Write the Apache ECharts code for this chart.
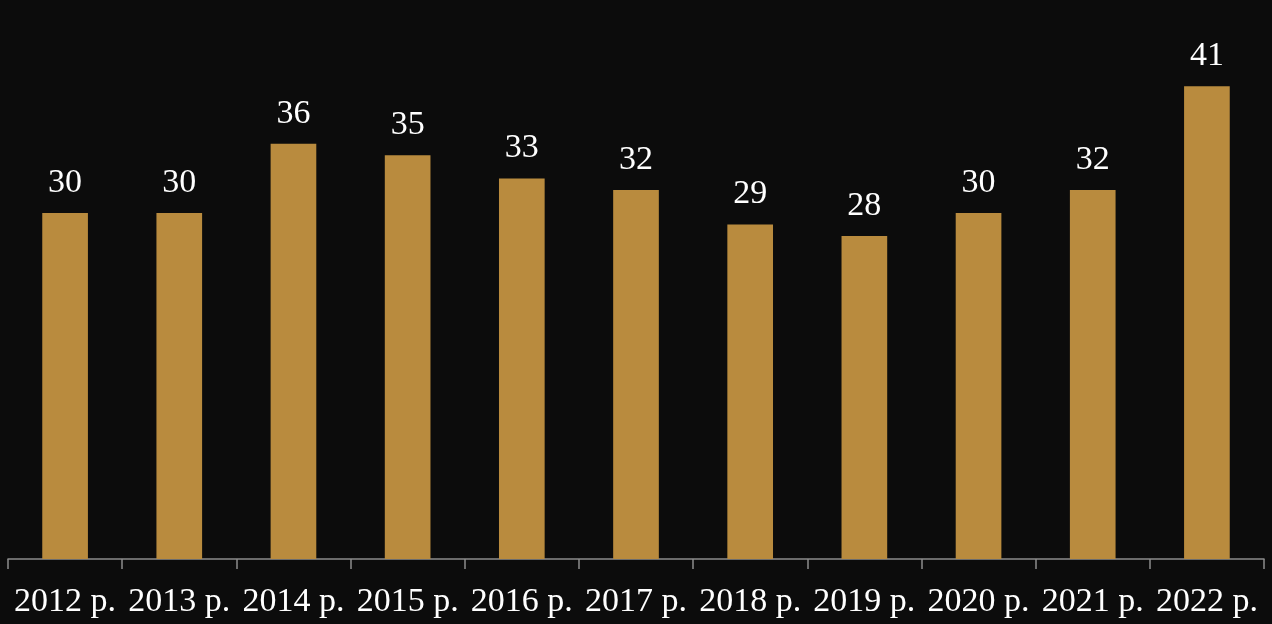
<!DOCTYPE html>
<html><head><meta charset="utf-8">
<script src="https://cdn.jsdelivr.net/npm/echarts@6/dist/echarts.min.js"></script>
<style>html,body{margin:0;padding:0;background:#0c0c0c}#c{width:1272px;height:624px}</style>
</head><body><div id="c"></div>
<script>
const categories = ['2012 р.','2013 р.','2014 р.','2015 р.','2016 р.','2017 р.','2018 р.','2019 р.','2020 р.','2021 р.','2022 р.'];
const values = [30,30,36,35,33,32,29,28,30,32,41];
const chart = echarts.init(document.getElementById('c'));
chart.setOption({
  backgroundColor:'#0c0c0c',
  animation:false,
  grid:{left:8,right:8,top:40,bottom:65,containLabel:false},
  xAxis:{type:'category',data:categories,
    axisLine:{lineStyle:{color:'#8c8c8c',width:1.5}},
    axisTick:{show:true,length:10,lineStyle:{color:'#8c8c8c',width:1.5}},
    axisLabel:{color:'#ffffff',fontFamily:'Liberation Serif',fontSize:34,margin:26,interval:0}},
  yAxis:{type:'value',min:0,max:45,show:false,splitLine:{show:false}},
  series:[{type:'bar',data:values,barWidth:'40%',
    itemStyle:{color:'#b98b3e'},
    label:{show:true,position:'top',distance:13,color:'#ffffff',fontFamily:'Liberation Serif',fontSize:34}}]
});
</script></body></html>
